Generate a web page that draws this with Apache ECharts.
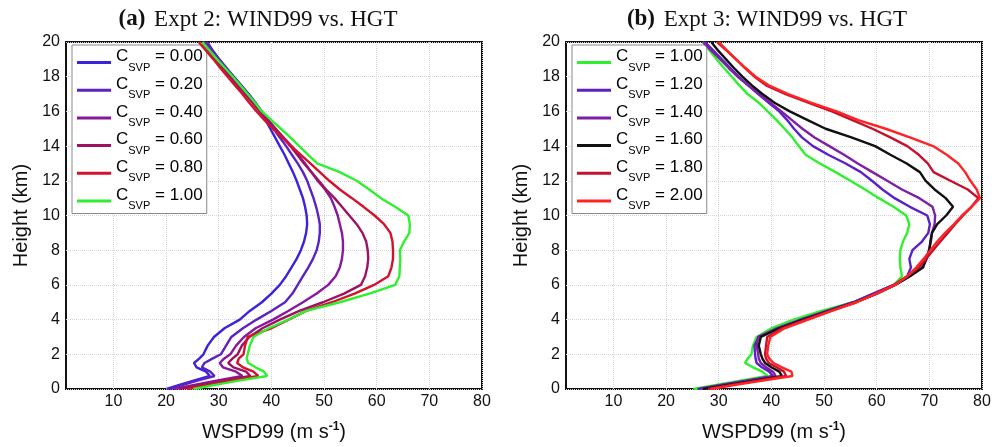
<!DOCTYPE html>
<html><head><meta charset="utf-8">
<script src="https://cdn.jsdelivr.net/npm/echarts@6/dist/echarts.min.js"></script>
<style>html,body{margin:0;padding:0;background:#fff}#c{width:1001px;height:447px}</style>
</head><body><div id="c"></div>
<script>
// Heights (km) shared by every profile
const HEIGHTS = [0,0.25,0.5,0.75,1,1.25,1.5,1.75,2,2.5,3,3.5,4,4.5,5,5.5,6,6.5,7,7.5,8,8.5,9,9.5,10,10.5,11,11.5,12,12.5,13,13.5,14,14.5,15,15.5,16,16.5,17,17.5,18,18.5,19,19.5,20];
const X_TICKS = [10,20,30,40,50,60,70,80];

// Panel (a): Expt 2, WSPD99 (m/s) at each height
const A_LABELS = ['0.00','0.20','0.40','0.60','0.80','1.00'];
const A_COLORS = ['#3b22dc','#5b22c4','#86199c','#9e1262','#d3122c','#2ef02e'];
const A_000 = [20.1,22.7,25.4,28.3,27.6,25.8,25.3,26.3,27.1,27.9,29.1,31.1,34,35.9,38.2,40,41.6,42.8,43.8,44.8,45.6,46.2,46.6,46.8,46.7,46.4,46,45.4,44.8,44.1,43.3,42.5,41.6,40.7,39.8,38.9,38,36.9,35.6,34.2,32.8,31.4,30.1,28.9,27.8];
const A_020 = [20.7,23.4,26.1,29.2,28.4,26.8,27.3,28.8,30.4,31.4,32.4,34.6,37.2,40,42.6,44,45,46,47,47.9,48.6,49,49.2,49.2,48.9,48.5,48,47.4,46.8,46,45,43.9,42.8,41.6,40.4,39.3,38.2,37,35.7,34.3,32.9,31.5,30.1,28.8,27.6];
const A_040 = [21.5,25.6,29.8,34.5,33.3,30.8,30.2,31,32.2,33.3,34.8,37,40.3,43.2,46,48.6,50.8,52.2,53,53.4,53.6,53.6,53.4,53,52.6,52,51.3,50.2,48.8,47.6,46.4,45.1,43.8,42.3,40.8,39.4,38,36.6,35.2,33.8,32.4,31,29.7,28.4,27.2];
const A_060 = [22.5,26.8,31.1,36,35.2,32.8,31.8,32.6,33.6,34.4,35.8,38.3,41.6,45.3,49.8,53.8,57,57.8,58.2,58.4,58.3,58,57.3,56.2,54.8,53.4,52,50.4,49,47.6,46.2,44.9,43.6,42.2,40.8,39.3,37.8,36.4,35,33.6,32.2,30.8,29.4,28.1,26.9];
const A_080 = [24,28.3,32.6,37.5,36.6,34.6,33.5,33.8,34.7,35,35.5,40,43.3,46.6,51.5,55.8,59.5,62.2,62.8,63.1,63.1,63,62.6,61.4,59.6,57.5,55.3,53,51,49.2,47.4,45.6,43.8,42,40.3,38.7,37.2,35.8,34.5,33.1,31.7,30.3,29,27.6,26.2];
const A_100 = [25.2,29.6,34.1,39.2,38.6,37,35.6,35.3,35.5,35.9,36.6,39.5,43.2,46.6,53,58.6,63.5,64.3,64.4,64.5,64.4,65.2,66.2,66.3,66,63.5,60.8,58.6,56.2,53,48.7,47,45.3,43.6,41.8,40,38.2,36.9,35.5,34.1,32.7,31.2,29.7,28.3,26.9];

// Panel (b): Expt 3
const B_LABELS = ['1.00','1.20','1.40','1.60','1.80','2.00'];
const B_COLORS = ['#2ef02e','#5a22c6','#7e1fa6','#111111','#c4112e','#ff2424'];
const B_100 = [25.2,29.8,34.4,39.2,38.3,36.5,35,35.5,36.2,36.5,37.2,40,44.2,49.5,55.5,59.5,63.3,64.8,64.5,64.4,64.5,65,65.8,66.2,65.6,63.2,60.4,57.8,55,52.2,49.2,46.5,45.2,44,42.5,41,39.3,37.6,35.5,33.9,32.5,31,29.6,28.3,27];
const B_120 = [26,30.7,35.4,40.3,39.6,38.2,37.2,37,36.9,36.8,37.6,41,45.5,50.5,55.5,59.3,63.2,65.8,66.5,66.2,66.8,68.6,69.8,70.1,69.6,66.3,63.4,61.1,59.1,57,54.1,50.8,47.9,45.8,44.3,43,41.5,39.5,37.5,35.6,33.8,32.2,30.6,29,27.4];
const B_140 = [26.5,31,35.8,40.8,40.3,39,38,37.6,37.5,37.2,37.5,41.2,45.8,51,56,60,63.5,66.3,68.6,69.5,69.9,70.3,70.5,71,71.1,70.6,68.1,64.8,62,59.2,56.4,53.8,51,48.2,45.9,43.9,41.9,39.8,37.7,35.6,33.6,31.9,30.3,28.6,27];
const B_160 = [27,32,37,42,41.5,40,38.8,38.3,38,37.6,38,41.5,46,51,56,60,63.5,66.3,68.8,69.4,70,70.2,70.5,71.5,73.2,74.5,73.1,71,69.3,68.2,65.7,62.6,59.7,55.2,50.3,46.9,43.5,40.6,38.3,36.3,34.5,32.9,31.4,29.9,28.6];
const B_180 = [28,32.8,37.8,42.8,42.4,41,39.5,39,38.8,39,39.2,42,46.5,51.2,56,59.8,63.3,65.8,68,69.4,70.7,72.1,73.5,74.9,76.4,78,79.3,77.3,74,70.8,69.7,68,65.8,62.6,59.2,55.4,51.5,47,42.7,39,36.8,35,33.3,31.5,29.7];
const B_200 = [28.5,33.5,38.7,44,43.8,42,40.4,39.6,39.2,39.4,39.8,42.5,47,51.5,56.2,60,63.5,65.8,67.5,68.9,70.2,71.5,73,74.7,76.2,78,79.6,79,77.8,76.8,75.5,73.3,70.7,66.3,61.7,56.5,52.4,47.5,43.2,39.5,37,35.1,33.3,31.6,30];

const A_SERIES = [A_000,A_020,A_040,A_060,A_080,A_100];
const B_SERIES = [B_100,B_120,B_140,B_160,B_180,B_200];

const SANS = 'Liberation Sans, Arial, Helvetica, sans-serif';
const SERIF = 'Liberation Serif, Times New Roman, serif';

function profile(values) { return values.map((v, i) => [v, HEIGHTS[i]]); }

const GRID_W = 416, GRID_H = 350, GRID_TOP = 42;
const PANELS = [
  {left: 66, title: '{b|(a)}{n| Expt 2: WIND99 vs. HGT}', titleX: 258, labels: A_LABELS, colors: A_COLORS, data: A_SERIES, key: 'a'},
  {left: 566, title: '{b|(b)}{n| Expt 3: WIND99 vs. HGT}', titleX: 767, labels: B_LABELS, colors: B_COLORS, data: B_SERIES, key: 'b'}
];

const legendRich = {
  c: {fontSize: 17, fontFamily: SANS, color: '#000', verticalAlign: 'top', lineHeight: 17},
  s: {fontSize: 11, fontFamily: SANS, color: '#000', verticalAlign: 'top', padding: [14, 0, 4, 0]},
  e: {fontSize: 17, fontFamily: SANS, color: '#000', verticalAlign: 'top', lineHeight: 17}
};

const option = {
  backgroundColor: '#fff',
  animation: false,
  title: PANELS.map(p => ({
    text: p.title, left: p.titleX, top: 8, textAlign: 'center', padding: 0,
    textStyle: {fontWeight: 'normal', rich: {
      b: {fontFamily: SERIF, fontWeight: 'bold', fontSize: 23, color: '#111'},
      n: {fontFamily: SERIF, fontWeight: 'normal', fontSize: 23, color: '#111', padding: [0, 0, 0, 3]}
    }}
  })),
  grid: PANELS.map(p => ({left: p.left, top: GRID_TOP, width: GRID_W, height: GRID_H,
    show: true, borderColor: '#111', borderWidth: 2, backgroundColor: 'transparent'})),
  xAxis: PANELS.map((p, i) => ({
    type: 'value', gridIndex: i, min: 1, max: 80,
    name: '{a|WSPD99 (m s}{u|-1}{a|)}', nameLocation: 'middle', nameGap: 32,
    nameTextStyle: {rich: {
      a: {fontFamily: SANS, fontSize: 20, color: '#111', lineHeight: 22},
      u: {fontFamily: SANS, fontSize: 12, fontWeight: 'bold', color: '#111', verticalAlign: 'top'}
    }},
    axisLine: {show: false},
    axisTick: {show: false, customValues: X_TICKS},
    axisLabel: {customValues: X_TICKS, fontFamily: SANS, fontSize: 16, color: '#111', margin: 5},
    splitLine: {show: true, lineStyle: {color: '#d4d4d4', type: 'dotted', width: 1}}
  })),
  yAxis: PANELS.map((p, i) => ({
    type: 'value', gridIndex: i, min: 0, max: 20, interval: 2,
    name: 'Height (km)', nameLocation: 'middle', nameGap: 35,
    nameTextStyle: {fontFamily: SANS, fontSize: 20, color: '#111'},
    axisLine: {show: false}, axisTick: {show: false},
    axisLabel: {fontFamily: SANS, fontSize: 16, color: '#111', margin: 6},
    splitLine: {show: true, lineStyle: {color: '#d4d4d4', type: 'dotted', width: 1}}
  })),
  legend: PANELS.map(p => ({
    orient: 'vertical', left: p.left + 6, top: 45,
    padding: [3, 4, 2, 5], itemGap: 2.7, itemWidth: 34, itemHeight: 3,
    icon: 'rect', backgroundColor: '#fff', borderColor: '#8a8a8a', borderWidth: 1,
    selectedMode: false,
    data: p.labels.map(l => p.key + ':' + l),
    formatter: name => '{c|C}{s|SVP}{e| = ' + name.slice(2) + '}',
    textStyle: {rich: legendRich}
  })),
  series: []
};

PANELS.forEach((p, i) => {
  p.data.forEach((vals, k) => {
    option.series.push({
      type: 'line', name: p.key + ':' + p.labels[k], xAxisIndex: i, yAxisIndex: i,
      data: profile(vals), showSymbol: false, symbol: 'none', smooth: false,
      color: p.colors[k], lineStyle: {width: 2.4, color: p.colors[k]},
      clip: true, z: 2 + k
    });
  });
});

const chart = echarts.init(document.getElementById('c'), null, {renderer: 'canvas'});
chart.setOption(option);
</script>
</body></html>
